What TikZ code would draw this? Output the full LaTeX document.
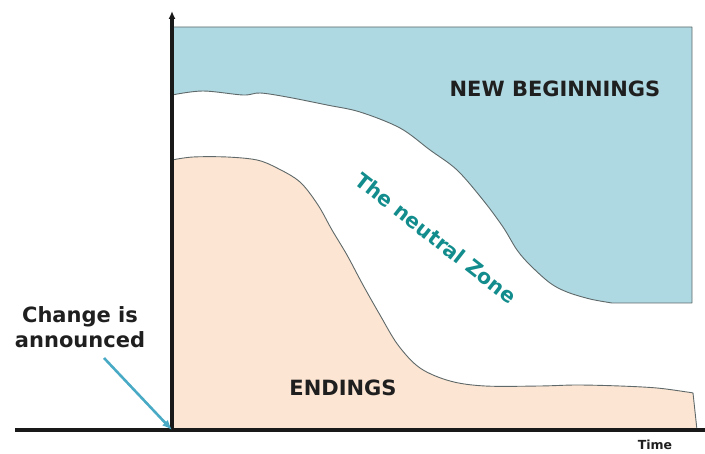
\documentclass[tikz,border=0pt]{standalone}
\usepackage{fontspec}
\setmainfont{DejaVu Sans}
\usetikzlibrary{arrows.meta,positioning}
\definecolor{newblue}{RGB}{174,216,226}
\definecolor{endpeach}{RGB}{253,229,211}
\definecolor{edgegrey}{RGB}{95,105,105}
\definecolor{zoneteal}{RGB}{18,140,140}
\definecolor{pointer}{RGB}{72,170,196}
\tikzset{
  zone/.style={draw=edgegrey,line width=0.9pt,line join=round},
  axisline/.style={line width=3.2pt,black!90},
  label/.style={font=\fontsize{21}{25}\selectfont\bfseries,text=black!88,inner sep=0pt,align=center},
}

\begin{document}
\begin{tikzpicture}[x=1pt,y=-1pt]
  \useasboundingbox (0,0) rectangle (705,454);
  % the two regions
  \draw[zone,fill=newblue] (172,27) -- (692,27) -- (692,303) -- plot[smooth,tension=0.55] coordinates {(612,303) (590,299) (567,292) (550,283) (530,265) (517,250) (503,227) (483,200) (457,170) (430,150) (400,128) (360,112) (327,105) (287,97) (260,93) (243,95) (203,91) (172,95)} -- cycle;
  \draw[zone,fill=endpeach] (172,430) -- (172,160) -- plot[smooth,tension=0.55] coordinates {(172,160) (193,157) (227,157) (257,160) (277,168) (300,182) (318,205) (332,230) (347,255) (363,285) (380,315) (398,345) (420,368) (450,381) (485,386) (540,386) (577,385) (620,386) (657,388) (687,392) (693,393)} -- (697,430) -- cycle;
  % axes
  \coordinate (origin) at (172,430);
  \coordinate (ytop) at (172,11);
  \coordinate (xleft) at (15,430);
  \coordinate (xright) at (705,430);
  \draw[axisline] (xleft) -- (xright);
  \draw[axisline,-{Latex[length=8pt,width=7pt]}] (origin) -- (ytop);
  % labels
  \node[label] (newbeg) at (555,89) {NEW BEGINNINGS};
  \node[label] (endings) at (343,388) {ENDINGS};
  \node[label,text=zoneteal,rotate=-38,font=\fontsize{20.5}{24}\selectfont\bfseries] (neutral) at (436,238) {The neutral Zone};
  \node[label] (announce) at (80,327) {Change is\\announced};
  \node[label,font=\fontsize{12.5}{15}\selectfont\bfseries] (time) at (655,445) {Time};
  \coordinate (tail) at (104,358);
  \draw[pointer,line width=2.6pt,-{Latex[length=10pt,width=8pt]}] (tail) -- (origin);
\end{tikzpicture}
\end{document}
